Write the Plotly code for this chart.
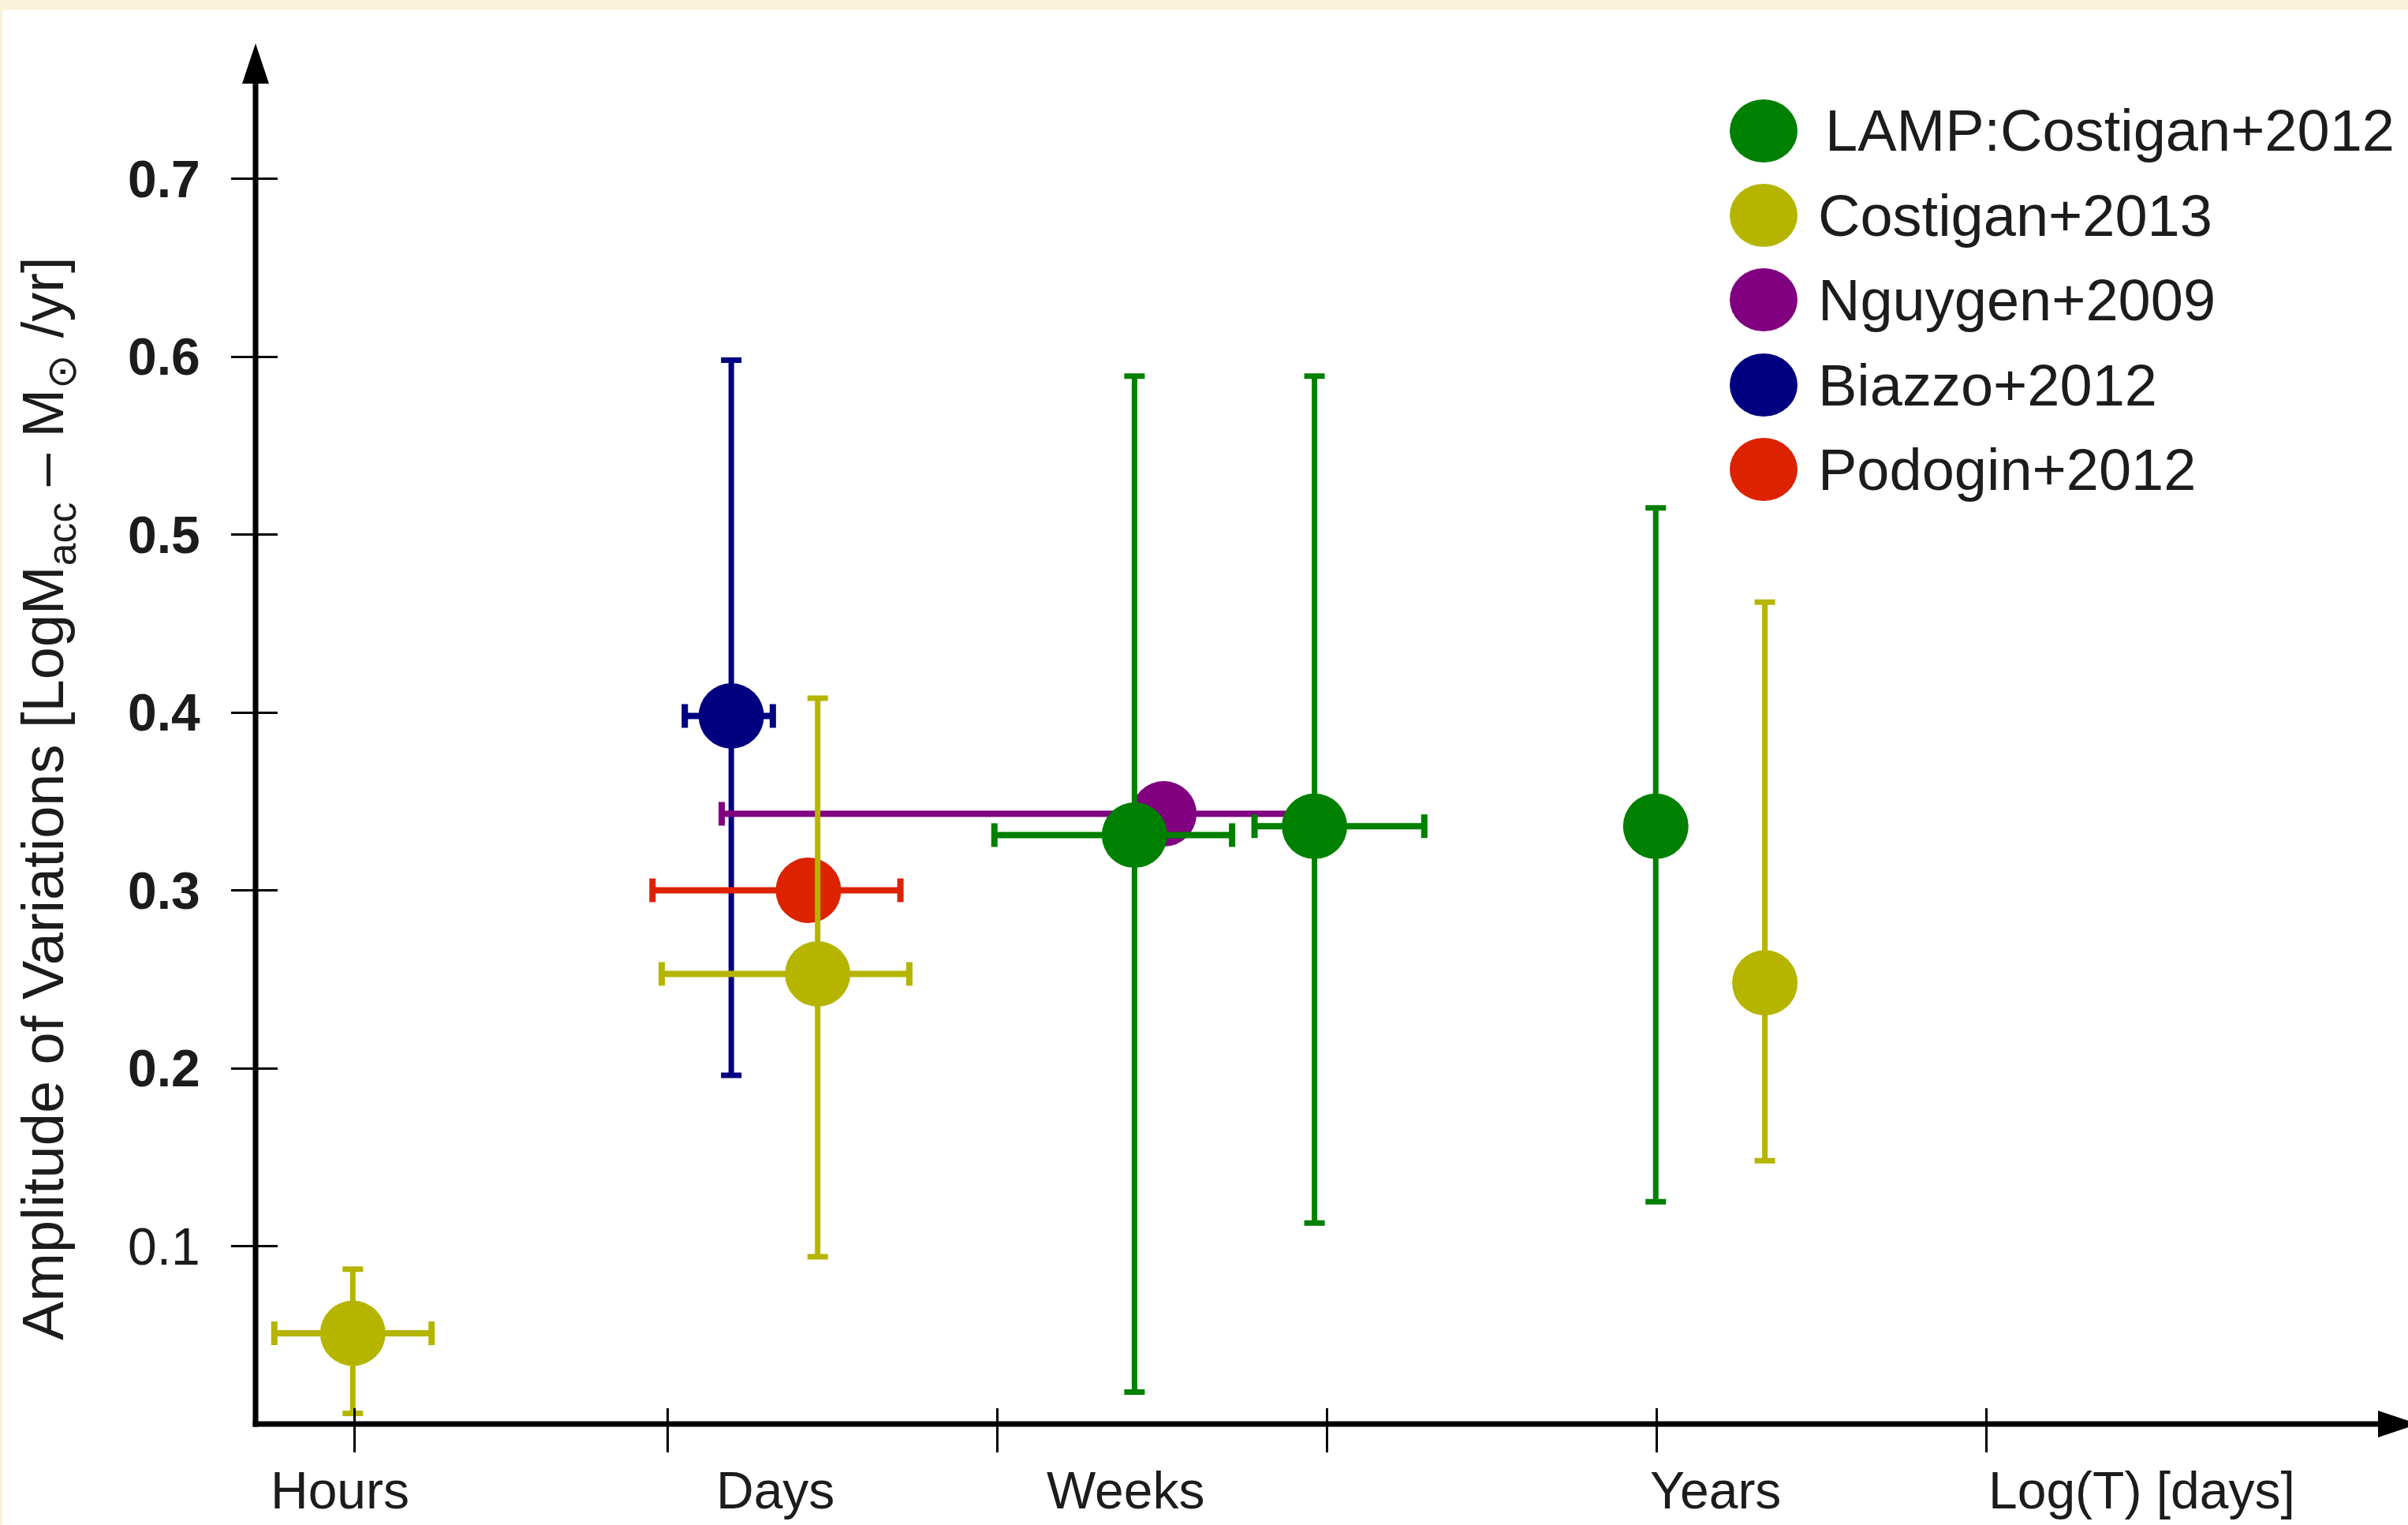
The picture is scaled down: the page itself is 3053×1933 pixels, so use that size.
import plotly.graph_objects as go

# ---------------------------------------------------------------------------
# Data: time-scale position (axis units) and amplitude of accretion variations
# ---------------------------------------------------------------------------
series_names = ["LAMP:Costigan+2012", "Costigan+2013", "Nguygen+2009",
                "Biazzo+2012", "Podogin+2012"]
series_colors = ["#008000", "#B5B500", "#800080", "#000080", "#DD2200"]

lamp_x = [2.666, 3.212, 4.247]
lamp_y = [0.331, 0.336, 0.336]
lamp_x_lo = [2.241, 3.030, None]
lamp_x_hi = [2.962, 3.545, None]
lamp_y_lo = [0.018, 0.113, 0.125]
lamp_y_hi = [0.589, 0.589, 0.515]

costigan13_x = [0.295, 1.705, 4.578]
costigan13_y = [0.051, 0.253, 0.248]
costigan13_x_lo = [0.057, 1.232, None]
costigan13_x_hi = [0.534, 1.983, None]
costigan13_y_lo = [0.006, 0.094, 0.148]
costigan13_y_hi = [0.087, 0.408, 0.462]

nguygen_x = [2.755]
nguygen_y = [0.343]
nguygen_x_lo = [1.414]
nguygen_x_hi = [3.196]

biazzo_x = [1.443]
biazzo_y = [0.398]
biazzo_x_lo = [1.302]
biazzo_x_hi = [1.569]
biazzo_y_lo = [0.196]
biazzo_y_hi = [0.598]

podogin_x = [1.677]
podogin_y = [0.300]
podogin_x_lo = [1.204]
podogin_x_hi = [1.956]

# Axis ticks and labels
x_tick_vals = [0.3, 1.25, 2.25, 3.25, 4.25, 5.25]
x_label_text = ["Hours", "Days", "Weeks", "Years", "Log(T) [days]"]
x_label_pos = [0.256, 1.577, 2.639, 4.428, 5.25]
x_label_anchor = ["center", "center", "center", "center", "left"]

y_tick_vals = [0.1, 0.2, 0.3, 0.4, 0.5, 0.6, 0.7]
y_tick_text = ["0.1", "<b>0.2</b>", "<b>0.3</b>", "<b>0.4</b>",
               "<b>0.5</b>", "<b>0.6</b>", "<b>0.7</b>"]

# ---------------------------------------------------------------------------
# Page geometry (pixels)
# ---------------------------------------------------------------------------
W, H = 3053, 1933
ML, MT, MB = 324, 55, 128
PW, PH = W - ML, H - MT - MB
X_RANGE = [0, PW / 418.0]
Y_RANGE = [0, PH / 2255.0]
FONT = "Liberation Sans, Arial, sans-serif"
TEXT = "#1c1c1c"


def px_x(p):
    return (p - ML) / PW


def px_y(p):
    return (H - MB - p) / PH


def span(lo, hi, centre):
    plus = [(h - c) if h is not None else 0 for h, c in zip(hi, centre)]
    minus = [(c - l) if l is not None else 0 for l, c in zip(lo, centre)]
    return plus, minus


def add_series(fig, name, color, x, y, xlo=None, xhi=None, ylo=None, yhi=None):
    kw = {}
    if xlo is not None:
        p, m = span(xlo, xhi, x)
        kw["error_x"] = dict(type="data", symmetric=False, array=p, arrayminus=m,
                             color=color, thickness=8, width=15)
    if ylo is not None:
        p, m = span(ylo, yhi, y)
        kw["error_y"] = dict(type="data", symmetric=False, array=p, arrayminus=m,
                             color=color, thickness=7, width=13)
    fig.add_trace(go.Scatter(
        x=x, y=y, mode="markers", name=name, showlegend=False,
        marker=dict(size=83, color=color, line=dict(width=0)),
        cliponaxis=False, **kw))


fig = go.Figure()
c = dict(zip(series_names, series_colors))
add_series(fig, "Biazzo+2012", c["Biazzo+2012"], biazzo_x, biazzo_y,
           biazzo_x_lo, biazzo_x_hi, biazzo_y_lo, biazzo_y_hi)
add_series(fig, "Podogin+2012", c["Podogin+2012"], podogin_x, podogin_y,
           podogin_x_lo, podogin_x_hi)
add_series(fig, "Nguygen+2009", c["Nguygen+2009"], nguygen_x, nguygen_y,
           nguygen_x_lo, nguygen_x_hi)
add_series(fig, "Costigan+2013", c["Costigan+2013"], costigan13_x, costigan13_y,
           costigan13_x_lo, costigan13_x_hi, costigan13_y_lo, costigan13_y_hi)
add_series(fig, "LAMP:Costigan+2012", c["LAMP:Costigan+2012"], lamp_x, lamp_y,
           lamp_x_lo, lamp_x_hi, lamp_y_lo, lamp_y_hi)

shapes = []
# axis lines
shapes.append(dict(type="line", xref="paper", yref="paper",
                   x0=px_x(ML), x1=px_x(ML), y0=px_y(H - MB + 3.5), y1=px_y(100),
                   line=dict(color="black", width=7)))
shapes.append(dict(type="line", xref="paper", yref="paper",
                   x0=px_x(ML - 3.5), x1=px_x(3020), y0=px_y(H - MB), y1=px_y(H - MB),
                   line=dict(color="black", width=7)))
# arrowheads
up = [(ML, 55), (ML - 17, 106), (ML + 17, 106)]
right = [(3066, H - MB), (3015, H - MB - 17), (3015, H - MB + 17)]
for tri in (up, right):
    path = "M " + " L ".join(f"{px_x(a)},{px_y(b)}" for a, b in tri) + " Z"
    shapes.append(dict(type="path", xref="paper", yref="paper", path=path,
                       fillcolor="black", line=dict(width=0)))
# page border tint
shapes.append(dict(type="rect", xref="paper", yref="paper",
                   x0=px_x(0), x1=px_x(W), y0=px_y(13), y1=px_y(0),
                   fillcolor="#FAF3DA", line=dict(width=0)))
shapes.append(dict(type="rect", xref="paper", yref="paper",
                   x0=px_x(0), x1=px_x(3), y0=px_y(H), y1=px_y(0),
                   fillcolor="#FAF3DA", line=dict(width=0)))

annotations = []
# legend
legend_centres = [166, 273, 380, 488, 595]
legend_text_left = [2312, 2303, 2303, 2303, 2303]
for name, color, cy, tx in zip(series_names, series_colors, legend_centres,
                               legend_text_left):
    shapes.append(dict(type="circle", xref="paper", yref="paper",
                       x0=px_x(2236 - 43), x1=px_x(2236 + 43),
                       y0=px_y(cy + 40), y1=px_y(cy - 40),
                       fillcolor=color, line=dict(width=0)))
    annotations.append(dict(text=name, xref="paper", yref="paper",
                            x=px_x(tx), y=px_y(cy), xanchor="left", yanchor="middle",
                            showarrow=False, font=dict(family=FONT, size=74, color=TEXT)))

# time-scale labels under the x axis
for txt, pos, anc in zip(x_label_text, x_label_pos, x_label_anchor):
    annotations.append(dict(text=txt, xref="x", yref="paper", x=pos, y=0,
                            xanchor=anc, yanchor="middle", yshift=-84,
                            showarrow=False, font=dict(family=FONT, size=66, color=TEXT)))

# y axis title
annotations.append(dict(
    text="Amplitude of Variations [LogM<sub>acc</sub> – M<sub>⊙</sub> /yr]",
    xref="paper", yref="paper", x=px_x(60), y=px_y(1012),
    xanchor="center", yanchor="middle", textangle=-90, showarrow=False,
    font=dict(family=FONT, size=74, color=TEXT)))

fig.update_layout(
    width=W, height=H,
    margin=dict(l=ML, r=0, t=MT, b=MB, pad=0),
    paper_bgcolor="white", plot_bgcolor="white",
    showlegend=False,
    shapes=shapes, annotations=annotations,
    xaxis=dict(range=X_RANGE, showgrid=False, zeroline=False, showline=False,
               tickmode="array", tickvals=x_tick_vals, showticklabels=False,
               ticks="outside", ticklen=35, tickwidth=3, tickcolor="black",
               minor=dict(tickmode="array", tickvals=x_tick_vals, ticks="inside",
                          ticklen=20, tickwidth=3, tickcolor="black", showgrid=False)),
    yaxis=dict(range=Y_RANGE, showgrid=False, zeroline=False, showline=False,
               tickmode="array", tickvals=y_tick_vals, ticktext=y_tick_text,
               ticks="outside", ticklen=30, tickwidth=3, tickcolor="black",
               ticklabelstandoff=26,
               tickfont=dict(family=FONT, size=66, color=TEXT),
               minor=dict(tickmode="array", tickvals=y_tick_vals, ticks="inside",
                          ticklen=28, tickwidth=3, tickcolor="black", showgrid=False)),
)

fig.write_html("out.html")
